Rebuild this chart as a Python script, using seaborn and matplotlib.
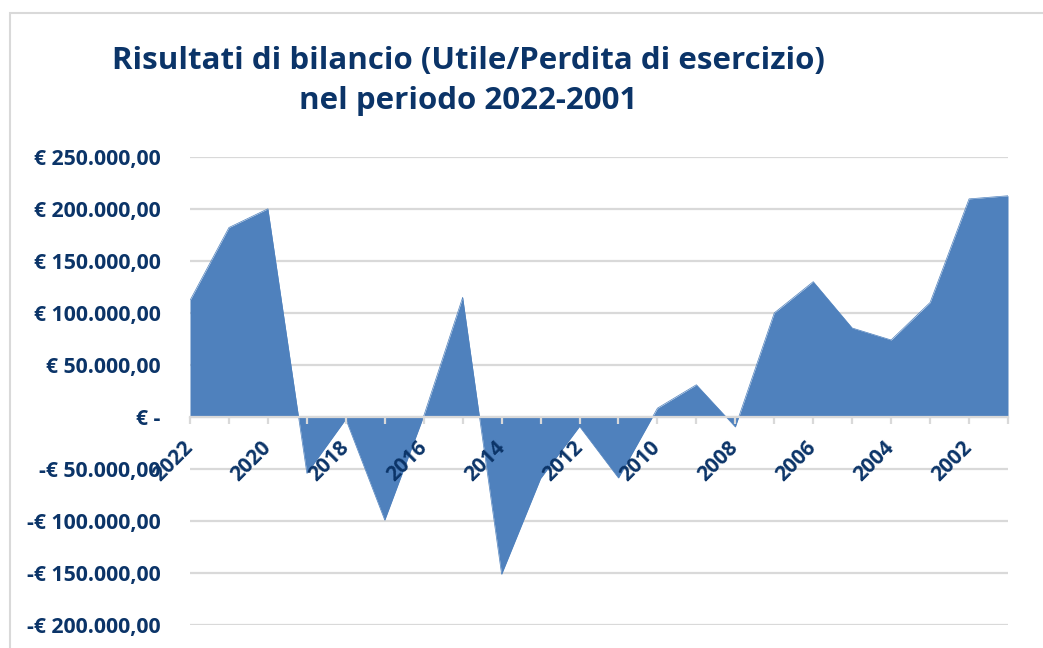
import numpy as np
import matplotlib
matplotlib.use('Agg')
import matplotlib.pyplot as plt
import seaborn as sns
from matplotlib.patches import Rectangle
from matplotlib.ticker import FuncFormatter

# dati (anni dal 2022 al 2001)
anni = ['2022', '2021', '2020', '2019', '2018', '2017', '2016', '2015', '2014', '2013', '2012',
        '2011', '2010', '2009', '2008', '2007', '2006', '2005', '2004', '2003', '2002', '2001']
risultati = [112000, 182000, 200000, -54000, -2000, -99000, 1000, 115000, -151000, -59000, -9000,
             -58500, 8500, 31000, -9500, 100000, 130000, 85500, 74000, 110000, 209500, 212500]
y_ticks = [-200000, -150000, -100000, -50000, 0, 50000, 100000, 150000, 200000, 250000]

titolo = 'Risultati di bilancio (Utile/Perdita di esercizio)\nnel periodo 2022-2001'

NAVY = '#0b3468'
BLUE = '#4f81bd'
GRID = '#d9d9d9'

sns.set_theme(style='white')
plt.rcParams['font.family'] = ['Open Sans', 'DejaVu Sans']

fig = plt.figure(figsize=(10.43, 6.48), dpi=100)
ax = fig.add_axes([190 / 1043, (648 - 625.3) / 648, (1008 - 190) / 1043, (625.3 - 156.7) / 648])

pos = np.arange(len(anni))
ax.fill_between(pos, risultati, 0, color=BLUE, lw=0, zorder=2)
sns.lineplot(x=pos, y=risultati, ax=ax, color=BLUE, lw=0.5, zorder=2)

ax.set_xlim(0, len(anni) - 1)
ax.set_ylim(-200000, 250000)
ax.set_yticks(y_ticks)
ax.grid(axis='y', color=GRID, lw=1.6)
ax.set_axisbelow(True)
# etichette degli anni sopra l'area, come in Excel
ax.xaxis.set_zorder(5)


def euro(v, _):
    if v == 0:
        return '€ -'
    s = f'{abs(v):,.2f}'.replace(',', 'X').replace('.', ',').replace('X', '.')
    return ('-€ ' if v < 0 else '€ ') + s


ax.yaxis.set_major_formatter(FuncFormatter(euro))
ax.tick_params(axis='y', length=0, pad=21, labelsize=15.3, labelcolor=NAVY)
for t in ax.get_yticklabels():
    t.set_fontweight('bold')

# asse delle categorie posizionato sullo zero
for s in ['left', 'right', 'top']:
    ax.spines[s].set_visible(False)
ax.spines['bottom'].set_position(('data', 0))
ax.spines['bottom'].set_color(GRID)
ax.spines['bottom'].set_linewidth(1.6)
ax.spines['bottom'].set_zorder(3)

ax.set_xticks(pos)
ax.set_xticklabels([a if i % 2 == 0 else '' for i, a in enumerate(anni)])
ax.tick_params(axis='x', bottom=True, direction='out', length=5, width=1.6, color=GRID,
               pad=15, labelsize=15, labelcolor=NAVY)
for t in ax.get_xticklabels():
    t.set_rotation(45)
    t.set_ha('right')
    t.set_va('center')
    t.set_rotation_mode('anchor')
    t.set_fontweight('bold')
ax.set_xlabel('')
ax.set_ylabel('')

fig.text(0.449, 1 - 81 / 648, titolo, ha='center', va='center', fontsize=22.5,
         fontweight='bold', color=NAVY, linespacing=1.42)

# cornice del grafico
fig.add_artist(Rectangle((10 / 1043, -0.1), 1.2, 1.1 - 13 / 648, transform=fig.transFigure,
                         fill=False, edgecolor=GRID, lw=1.5))

fig.savefig('out.png', dpi=100)
